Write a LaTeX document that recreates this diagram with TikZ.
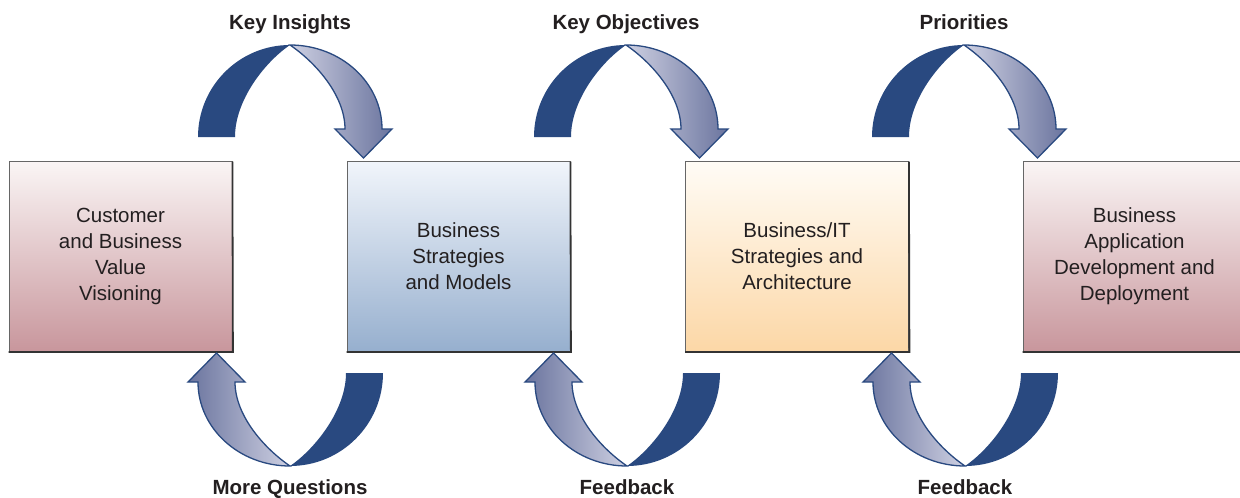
\documentclass[tikz,border=0pt]{standalone}
\usepackage{fontspec}
\setmainfont{Liberation Sans}
\definecolor{dblue}{RGB}{41,73,128}
\definecolor{rlight}{RGB}{206,208,226}
\definecolor{rdark}{RGB}{106,116,158}
\definecolor{bAtop}{RGB}{250,245,245}
\definecolor{bAbot}{RGB}{200,150,156}
\definecolor{bBtop}{RGB}{241,245,251}
\definecolor{bBbot}{RGB}{150,175,206}
\definecolor{bCtop}{RGB}{255,252,246}
\definecolor{bCbot}{RGB}{252,215,166}
\definecolor{txt}{RGB}{35,31,32}
\tikzset{
  box/.style={draw=black!60, line width=0.8pt, minimum width=223pt, minimum height=191pt,
    inner sep=0pt, align=center, text=txt, font=\fontsize{20.5}{26}\selectfont},
  boxshadow/.style={draw=black!80, line width=1.8pt},
  lbl/.style={font=\bfseries\fontsize{20.5}{24}\selectfont, text=txt, anchor=base},
  band/.style={fill=dblue},
  ribbon/.style={draw=dblue, line width=1.3pt, line join=miter},
}
\newcommand\myTopArc[1]{%
  \fill[band] ({#1-92},137) .. controls ({#1-92},86.2) and ({#1-50.8},45) .. (#1,45)
     .. controls ({#1-25},62) and ({#1-55},100) .. ({#1-55},137) -- cycle;
  \shadedraw[ribbon, left color=rlight, right color=rdark] (#1,45)
     .. controls ({#1+50.8},45) and ({#1+92},82.6) .. ({#1+92},129)
     -- ({#1+102},129) -- ({#1+73.5},158) -- ({#1+45},129) -- ({#1+55},129)
     .. controls ({#1+55},95) and ({#1+25},62) .. (#1,45) -- cycle;
}
\newcommand\myBotArc[1]{%
  \fill[band] ({#1+93},373) .. controls ({#1+93},424.4) and ({#1+51.4},466) .. (#1,466)
     .. controls ({#1+25},449) and ({#1+56},410) .. ({#1+56},373) -- cycle;
  \shadedraw[ribbon, left color=rdark, right color=rlight] (#1,466)
     .. controls ({#1-50.8},466) and ({#1-92},428.4) .. ({#1-92},382)
     -- ({#1-102},382) -- ({#1-73.5},353) -- ({#1-45},382) -- ({#1-55},382)
     .. controls ({#1-55},416) and ({#1-25},449) .. (#1,466) -- cycle;
}
\begin{document}
\begin{tikzpicture}[x=1pt,y=-1pt]
\useasboundingbox (0,0) rectangle (1240,498);
\fill[white] (0,0) rectangle (1240,498);

% boxes
\node[box, top color=bAtop, bottom color=bAbot] (b1) at (120.5,256.5)
  {Customer\\and Business\\Value\\Visioning};
\node[box, top color=bBtop, bottom color=bBbot] (b2) at (458.5,256.5)
  {Business\\Strategies\\and Models};
\node[box, top color=bCtop, bottom color=bCbot] (b3) at (797,256.5)
  {Business/IT\\Strategies and\\Architecture};
\node[box, top color=bAtop, bottom color=bAbot] (b4) at (1134.5,256.5)
  {Business\\Application\\Development and\\Deployment};
\foreach \b in {b1,b2,b3,b4}
  \draw[boxshadow] ([yshift=-1pt]\b.north east) -- ([xshift=0.5pt,yshift=0.5pt]\b.south east) -- ([yshift=0.5pt]\b.south west);

% arcs
\myTopArc{290}
\myTopArc{626}
\myTopArc{964}
\myBotArc{290}
\myBotArc{627}
\myBotArc{965}

% labels
\node[lbl] (l1) at (290,29) {Key Insights};
\node[lbl] (l2) at (626,29) {Key Objectives};
\node[lbl] (l3) at (964,29) {Priorities};
\node[lbl] (l4) at (290,494) {More Questions};
\node[lbl] (l5) at (627,494) {Feedback};
\node[lbl] (l6) at (965,494) {Feedback};
\end{tikzpicture}
\end{document}
